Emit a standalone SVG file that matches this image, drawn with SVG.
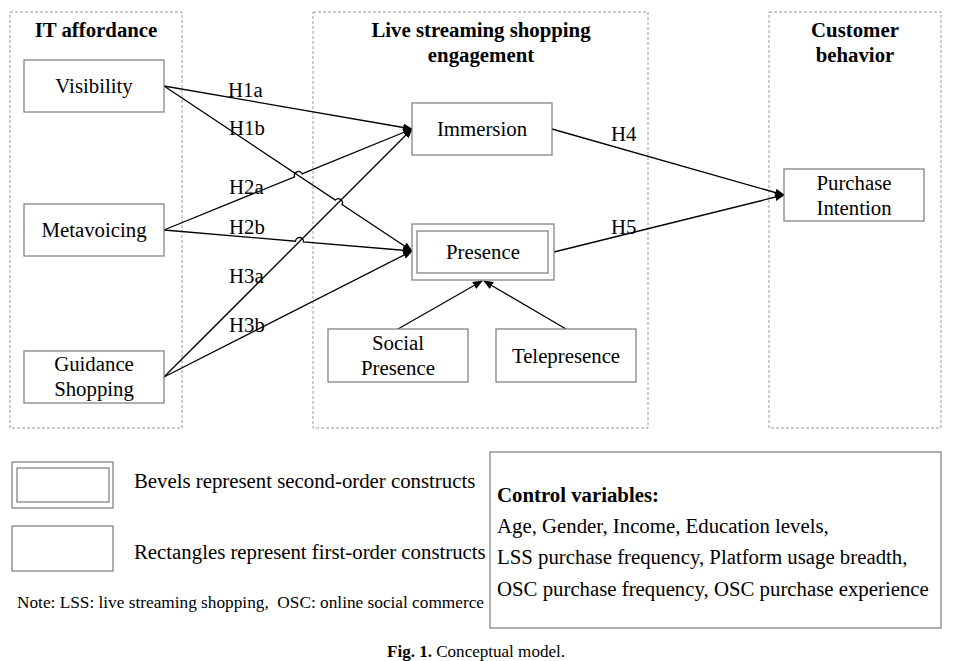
<svg xmlns="http://www.w3.org/2000/svg" width="957" height="661" viewBox="0 0 957 661">
<style>
  .bg{fill:#fff}
  .col{fill:none;stroke:#9a9a9a;stroke-width:1;stroke-dasharray:3,2}
  .box{fill:#fff;stroke:#7a7a7a;stroke-width:1.2}
  .t{font-family:"Liberation Serif","Times New Roman",serif;font-size:20.8px;fill:#000}
  .tb{font-family:"Liberation Serif","Times New Roman",serif;font-size:20.8px;font-weight:bold;fill:#000}
  .c{text-anchor:middle}
  .ln{fill:none;stroke:#000;stroke-width:1.3}
  .small{font-family:"Liberation Serif","Times New Roman",serif;font-size:16px;fill:#000}
  .cap{font-family:"Liberation Serif","Times New Roman",serif;font-size:16px;fill:#000}
</style>
<defs>
  <marker id="ah" markerWidth="10" markerHeight="8" refX="9" refY="4" orient="auto" markerUnits="userSpaceOnUse">
    <path d="M0,0 L10,4 L0,8 Z" fill="#000"/>
  </marker>
</defs>
<rect class="bg" x="0" y="0" width="957" height="661"/>

<g id="col-it">
  <rect class="col" x="10" y="12" width="172" height="416"/>
  <text class="tb c" x="96" y="37">IT affordance</text>
</g>
<g id="col-live">
  <rect class="col" x="313" y="12" width="335" height="416"/>
  <text class="tb c" x="481" y="37">Live streaming shopping</text>
  <text class="tb c" x="481" y="62">engagement</text>
</g>
<g id="col-cust">
  <rect class="col" x="769" y="12" width="172" height="416"/>
  <text class="tb c" x="855" y="37">Customer</text>
  <text class="tb c" x="855" y="62">behavior</text>
</g>

<g id="connectors">
  <path class="ln" marker-end="url(#ah)" d="M164,86 L412,129"/>
  <path class="ln" marker-end="url(#ah)" d="M164,86 L335.4,200.1 A4,4 0 0 1 342,204.5 L412,251"/>
  <path class="ln" marker-end="url(#ah)" d="M164,230 L294.6,176.8 A4,4 0 0 1 302,173.8 L412,129"/>
  <path class="ln" marker-end="url(#ah)" d="M164,230 L295.5,241.2 A4,4 0 0 1 303.5,241.8 L412,251"/>
  <path class="ln" marker-end="url(#ah)" d="M164,377 L412,129"/>
  <path class="ln" marker-end="url(#ah)" d="M164,377 L412,251"/>
  <path class="ln" marker-end="url(#ah)" d="M552,129 L784,195"/>
  <path class="ln" marker-end="url(#ah)" d="M554,252 L784,195"/>
  <path class="ln" marker-end="url(#ah)" d="M398,329 L482,281"/>
  <path class="ln" marker-end="url(#ah)" d="M566,329 L484,281"/>
  <text class="t" x="228" y="97">H1a</text>
  <text class="t" x="229" y="135">H1b</text>
  <text class="t" x="229" y="194">H2a</text>
  <text class="t" x="229" y="234">H2b</text>
  <text class="t" x="229" y="283">H3a</text>
  <text class="t" x="229" y="332">H3b</text>
  <text class="t" x="611" y="141">H4</text>
  <text class="t" x="611" y="234">H5</text>
</g>

<g id="visibility">
  <rect class="box" x="24" y="60" width="140" height="52"/>
  <text class="t c" x="94" y="93">Visibility</text>
</g>
<g id="metavoicing">
  <rect class="box" x="24" y="204" width="140" height="52"/>
  <text class="t c" x="94" y="237">Metavoicing</text>
</g>
<g id="guidance-shopping">
  <rect class="box" x="24" y="351" width="140" height="52"/>
  <text class="t c" x="94" y="371">Guidance</text>
  <text class="t c" x="94" y="396">Shopping</text>
</g>
<g id="immersion">
  <rect class="box" x="412" y="103" width="140" height="52"/>
  <text class="t c" x="482" y="136">Immersion</text>
</g>
<g id="presence">
  <rect class="box" x="412" y="224" width="142" height="56"/>
  <rect class="box" x="417" y="231" width="131" height="42"/>
  <text class="t c" x="483" y="259">Presence</text>
</g>
<g id="social-presence">
  <rect class="box" x="328" y="329" width="140" height="53"/>
  <text class="t c" x="398" y="350">Social</text>
  <text class="t c" x="398" y="375">Presence</text>
</g>
<g id="telepresence">
  <rect class="box" x="496" y="329" width="140" height="53"/>
  <text class="t c" x="566" y="363">Telepresence</text>
</g>
<g id="purchase-intention">
  <rect class="box" x="784" y="169" width="140" height="52"/>
  <text class="t c" x="854" y="190">Purchase</text>
  <text class="t c" x="854" y="215">Intention</text>
</g>

<g id="legend">
  <rect class="box" x="12" y="462" width="101" height="46"/>
  <rect class="box" x="17" y="468" width="92" height="34"/>
  <text class="t" x="134" y="488">Bevels represent second-order constructs</text>
  <rect class="box" x="12" y="526" width="101" height="45"/>
  <text class="t" x="134" y="559">Rectangles represent first-order constructs</text>
  <text class="small" x="17" y="608" textLength="467" lengthAdjust="spacingAndGlyphs">Note: LSS: live streaming shopping,&#160; OSC: online social commerce</text>
</g>

<g id="control-variables">
  <rect class="box" x="490" y="452" width="451" height="176"/>
  <text class="tb" x="497" y="502">Control variables:</text>
  <text class="t" x="497" y="533">Age, Gender, Income, Education levels,</text>
  <text class="t" x="497" y="564">LSS purchase frequency, Platform usage breadth,</text>
  <text class="t" x="497" y="596">OSC purchase frequency, OSC purchase experience</text>
</g>

<text class="cap" x="387" y="657" textLength="178" lengthAdjust="spacingAndGlyphs"><tspan font-weight="bold">Fig. 1.</tspan> Conceptual model.</text>
</svg>
